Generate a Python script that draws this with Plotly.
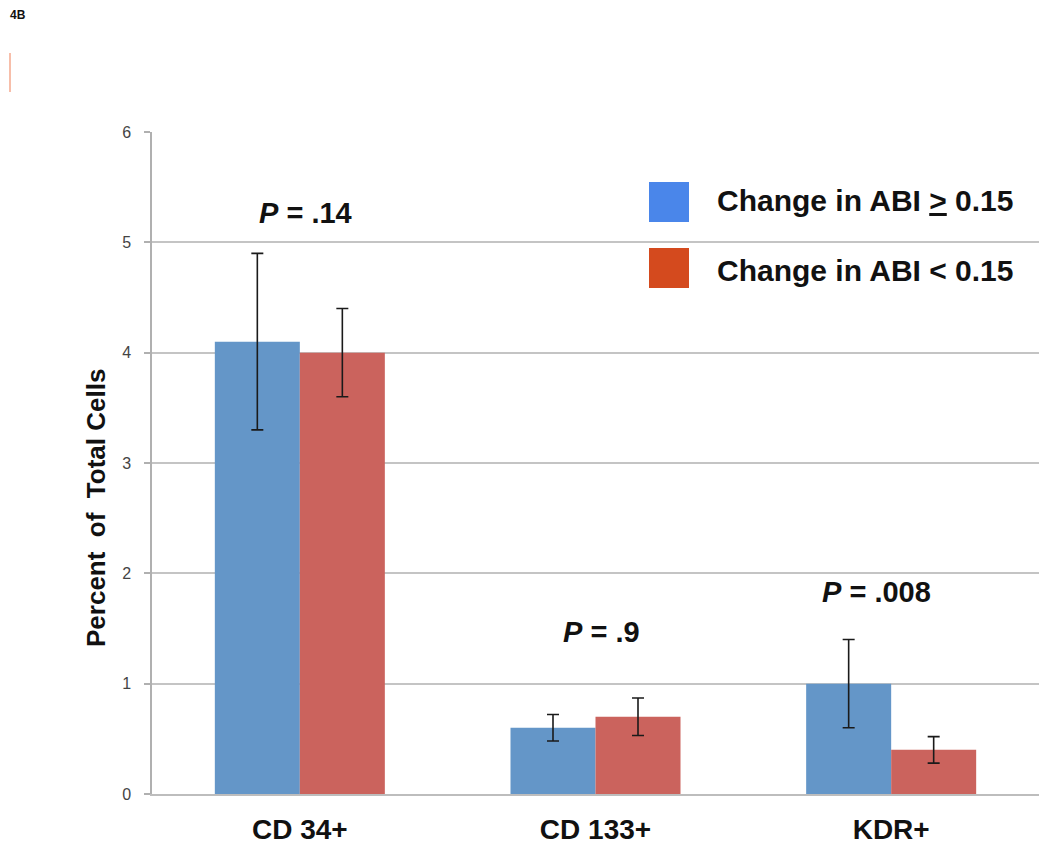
import plotly.graph_objects as go

categories = ["CD 34+", "CD 133+", "KDR+"]
series_names = ["Change in ABI \u2265 0.15", "Change in ABI < 0.15"]
high_vals = [4.1, 0.6, 1.0]
high_err = [0.8, 0.12, 0.4]
low_vals = [4.0, 0.7, 0.4]
low_err = [0.4, 0.17, 0.12]
p_labels = ["<i>P</i> = .14", "<i>P</i> = .9", "<i>P</i> = .008"]
p_x = [0.02, 1.02, 1.95]
p_y = [5.27, 1.47, 1.83]
y_ticks = [0, 1, 2, 3, 4, 5, 6]

# page body margin is 8px; figure sized to fit the window exactly
OFF = 8
W, H = 1050 - 2 * OFF, 854 - 2 * OFF
L, R, T, B = 152 - OFF, W - (1039 - OFF), 132 - OFF, H - (794 - OFF)
pw, ph = W - L - R, H - T - B

def px(x):
    return (x - OFF - L) / pw

def py(y):
    return (H - B - (y - OFF)) / ph

FONT = "Liberation Sans, Arial, sans-serif"
bar_blue = "#6496C8"
bar_red = "#CB635D"
leg_blue = "#4A86EA"
leg_red = "#D44A1E"

fig = go.Figure()
fig.add_trace(go.Bar(
    x=categories, y=high_vals, name=series_names[0], marker_color=bar_blue,
    marker_line_width=0,
    error_y=dict(type="data", array=high_err, color="#1a1a1a", thickness=1.6, width=6),
    showlegend=False))
fig.add_trace(go.Bar(
    x=categories, y=low_vals, name=series_names[1], marker_color=bar_red,
    marker_line_width=0,
    error_y=dict(type="data", array=low_err, color="#1a1a1a", thickness=1.6, width=6),
    showlegend=False))

annotations = []
for lab, xv, yv in zip(p_labels, p_x, p_y):
    annotations.append(dict(x=xv, y=yv, xref="x", yref="y", text="<b>" + lab + "</b>",
                            showarrow=False, font=dict(family=FONT, size=29, color="#111"),
                            xanchor="center", yanchor="middle"))

shapes = [
    dict(type="rect", xref="paper", yref="paper", x0=px(649), x1=px(689), y0=py(222), y1=py(182),
         fillcolor=leg_blue, line_width=0),
    dict(type="rect", xref="paper", yref="paper", x0=px(649), x1=px(689), y0=py(288), y1=py(248),
         fillcolor=leg_red, line_width=0),
    dict(type="line", xref="paper", yref="paper", x0=px(10), x1=px(10), y0=py(92), y1=py(53),
         line=dict(color="#F5A88E", width=1.5)),
]
annotations.append(dict(x=px(715), y=py(201), xref="paper", yref="paper",
                        text="<b>Change in ABI <u>&gt;</u> 0.15</b>", showarrow=False,
                        font=dict(family=FONT, size=30, color="#111"), xanchor="left", yanchor="middle"))
annotations.append(dict(x=px(715), y=py(270), xref="paper", yref="paper",
                        text="<b>Change in ABI &lt; 0.15</b>", showarrow=False,
                        font=dict(family=FONT, size=30, color="#111"), xanchor="left", yanchor="middle"))
annotations.append(dict(x=px(96), y=py(508), xref="paper", yref="paper",
                        text="<b>Percent\u00a0\u00a0of\u00a0\u00a0Total Cells</b>", showarrow=False,
                        textangle=-90, font=dict(family=FONT, size=26, color="#111"),
                        xanchor="center", yanchor="middle"))
annotations.append(dict(x=px(8), y=py(6), xref="paper", yref="paper",
                        text="<b>4B</b>", showarrow=False,
                        font=dict(family=FONT, size=12, color="#111"),
                        xanchor="left", yanchor="top"))

fig.update_layout(
    width=W, height=H,
    margin=dict(l=L, r=R, t=T, b=B),
    paper_bgcolor="white", plot_bgcolor="white",
    barmode="group", bargap=0.425, bargroupgap=0,
    shapes=shapes, annotations=annotations,
    xaxis=dict(range=[-0.5, 2.5], showgrid=False, showline=True, linecolor="#bdbdbd", linewidth=2,
               automargin=False,
               ticks="", tickfont=dict(family=FONT, size=28, color="#111"),
               tickprefix="<b>", ticksuffix="</b>", ticklabelstandoff=9),
    yaxis=dict(range=[0, 6], tickvals=y_ticks, showgrid=True, gridcolor="#c4c4c4", gridwidth=1.5,
               automargin=False,
               showline=True, linecolor="#b0b0b0", linewidth=1.5, ticks="outside", ticklen=6,
               tickcolor="#b0b0b0", tickwidth=1.5, zeroline=False,
               tickprefix="<b>", ticksuffix="</b>",
               tickfont=dict(family=FONT, size=16, color="#444"), ticklabelstandoff=10),
)

fig.write_html("out.html")
